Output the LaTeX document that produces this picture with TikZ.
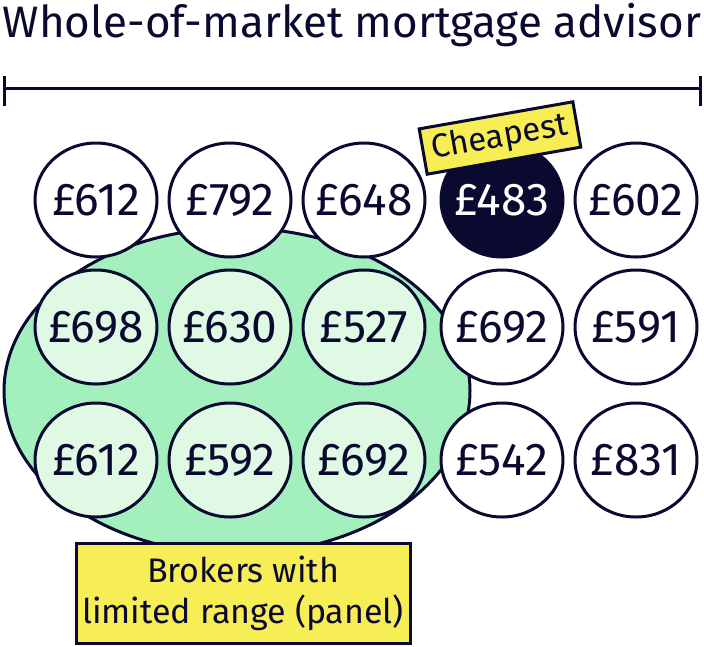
\documentclass[tikz,border=0pt]{standalone}
\usepackage{fontspec}
\setmainfont{Fira Sans}
\usetikzlibrary{positioning, shapes.geometric}

\definecolor{ink}{RGB}{10,10,48}
\definecolor{panelgreen}{RGB}{163,239,190}
\definecolor{palegreen}{RGB}{224,249,229}
\definecolor{tagyellow}{RGB}{247,238,85}

\begin{document}
\begin{tikzpicture}[
    x=1pt, y=-1pt,
    line width=3pt,
    price/.style={
        draw=ink, ellipse, fill=white, text=ink,
        minimum width=122pt, minimum height=114pt,
        inner xsep=-8pt, inner ysep=0pt,
        font=\fontsize{46}{50}\selectfont,
    },
    inpanel/.style={price, fill=palegreen},
    best/.style={price, fill=ink, text=white},
    tag/.style={
        draw=ink, fill=tagyellow, text=ink, align=center, inner sep=0pt,
    },
]
\useasboundingbox (0,0) rectangle (704,646);

\def\colA{96}
\def\colB{230}
\def\colC{364}
\def\colD{502}
\def\colE{636}
\def\rowA{200}
\def\rowB{327}
\def\rowC{460}

% title and range bar
\node[text=ink, font=\fontsize{44}{48}\selectfont, anchor=base] (title) at (352,37) {Whole-of-market mortgage advisor};
\coordinate (barL) at (4,88);
\coordinate (barR) at (700,88);
\draw[ink] (barL) -- (barR);
\draw[ink] ([yshift=-18pt]barL) -- ([yshift=12pt]barL);
\draw[ink] ([yshift=-18pt]barR) -- ([yshift=12pt]barR);

% panel
\node[draw=ink, fill=panelgreen, ellipse, minimum width=466pt, minimum height=326pt] (panel) at (237,391) {};

% first row
\node[price] (p1) at (\colA pt,\rowA) {£612};
\node[price] (p2) at (\colB pt,\rowA) {£792};
\node[price] (p3) at (\colC pt,\rowA) {£648};
\node[best]  (p4) at (\colD pt,\rowA) {£483};
\node[price] (p5) at (\colE pt,\rowA) {£602};

% second row
\node[inpanel] (p6) at (\colA pt,\rowB) {£698};
\node[inpanel] (p7) at (\colB pt,\rowB) {£630};
\node[inpanel] (p8) at (\colC pt,\rowB) {£527};
\node[price]   (p9) at (\colD pt,\rowB) {£692};
\node[price]  (p10) at (\colE pt,\rowB) {£591};

% third row
\node[inpanel] (p11) at (\colA pt,\rowC) {£612};
\node[inpanel] (p12) at (\colB pt,\rowC) {£592};
\node[inpanel] (p13) at (\colC pt,\rowC) {£692};
\node[price]   (p14) at (\colD pt,\rowC) {£542};
\node[price]   (p15) at (\colE pt,\rowC) {£831};

% labels
\node[tag, rotate=10, minimum width=156pt, minimum height=46pt, font=\fontsize{33}{36}\selectfont] (cheap) at (500,138) {Cheapest};
\node[tag, minimum width=334pt, minimum height=100pt, font=\fontsize{34}{41}\selectfont] (range) at (243,593) {Brokers with\\limited range (panel)};

\end{tikzpicture}
\end{document}
